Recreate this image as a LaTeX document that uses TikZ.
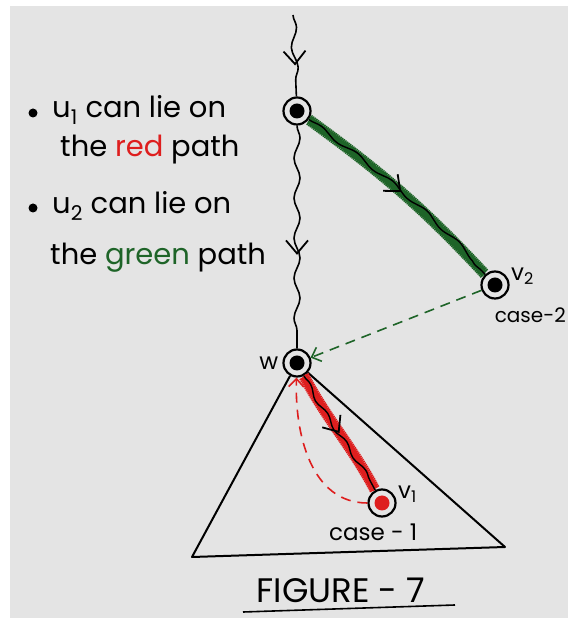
\documentclass[tikz,border=0pt]{standalone}
\usepackage{fontspec}
\setmainfont{Poppins}
\usepackage{tikz}
\usetikzlibrary{arrows.meta, positioning, decorations.pathmorphing, decorations.markings}
\definecolor{paper}{RGB}{228,228,228}
\definecolor{redInk}{RGB}{222,30,30}
\definecolor{greenInk}{RGB}{30,100,40}
\tikzset{
    vertex/.style={circle, draw, line width=2.2pt, fill=paper, minimum size=27pt, inner sep=0pt,
        path picture={\fill[#1] (path picture bounding box.center) circle (7.5pt);}},
    vertex/.default=black,
    wavy/.style={draw, line width=1.6pt, decorate, decoration={snake, segment length=40pt, amplitude=3pt}},
    fuzz/.style={draw=#1, line width=1.3pt, decorate, decoration={zigzag, segment length=2pt, amplitude=5.5pt}},
    edge/.style={draw, line width=2pt, line join=round},
    hint/.style={draw=#1, line width=1.6pt, dash pattern=on 10pt off 7pt, -{Straight Barb[length=8pt,width=15pt]}},
    midarrow/.style={postaction={decorate, decoration={markings,
        mark=at position #1 with {\arrow[line width=1.8pt]{Straight Barb[length=13pt,width=22pt]}}}}},
    note/.style={font=\fontsize{29}{33}\selectfont, inner sep=0pt},
    lbl/.style={font=\fontsize{23}{27}\selectfont, inner sep=1pt},
    dotmark/.style={circle, fill, minimum size=9pt, inner sep=0pt}
}
\begin{document}
\begin{tikzpicture}[x=1pt, y=1pt]
    \useasboundingbox (0,0) rectangle (568,618);
    \fill[paper] (10,0) rectangle (568,612);

    % Nodes
    \coordinate (top) at (293,603);
    \node [vertex] (u1) at (297,507) {};
    \node [vertex] (w) at (297,255) {};
    \node [vertex] (v2) at (495,333) {};
    \node [vertex=redInk] (v1) at (382,115) {};
    \coordinate (bl) at (192,61);
    \coordinate (br) at (505,71);

    % Labels
    \node [lbl, left=3pt of w] (wlbl) {w};
    \node [lbl, anchor=west] (v2lbl) at (510,342) {v\textsubscript{2}};
    \node [lbl, font=\fontsize{20}{24}\selectfont, anchor=east, inner sep=0pt] (case2) at (566,303) {case-2};
    \node [lbl, anchor=west] (v1lbl) at (397,124) {v\textsubscript{1}};
    \node [lbl, anchor=west] (case1) at (328,86) {case - 1};
    \node [font=\fontsize{34}{38}\selectfont, inner sep=0pt] (fig) at (341,28) {FIGURE - 7};
    \coordinate (ulA) at (243,6);
    \coordinate (ulB) at (455,13);

    % Notes
    \node [dotmark] (b1) at (33,505) {};
    \node [note, anchor=west] (n1) at (52,508) {u\textsubscript{1} can lie on};
    \node [note, anchor=west] (n2) at (60,468) {the \textcolor{redInk}{red} path};
    \node [dotmark] (b2) at (33,410) {};
    \node [note, anchor=west] (n3) at (52,412) {u\textsubscript{2} can lie on};
    \node [note, anchor=west] (n4) at (50,360) {the \textcolor{greenInk}{green} path};

    % Tree
    \draw [edge] (w) -- (bl) -- (br) -- (w);

    % Paths
    \path [wavy] (top) -- (u1);
    \path [midarrow=.62] (top) -- (u1);
    \path [wavy] (u1) -- (w);
    \path [midarrow=.58] (u1) -- (w);

    \path [fuzz=greenInk] (u1) to[out=-36, in=133] (v2);
    \path [wavy, line width=1.4pt, decoration={segment length=45pt, amplitude=2pt}] (u1) to[out=-36, in=133] (v2);
    \path [midarrow=.5] (u1) to[out=-36, in=133] (v2);

    \path [fuzz=redInk] (w) to[out=-62, in=118] (v1);
    \path [wavy, line width=1.4pt, decoration={segment length=34pt, amplitude=2pt}] (w) to[out=-62, in=118] (v1);
    \path [midarrow=.5] (w) to[out=-62, in=118] (v1);

    \path [hint=greenInk] (v2) -- (w);
    \path [hint=redInk] (v1) to[out=180, in=-92] (w);

    \draw [line width=1.6pt] (ulA) -- (ulB);
\end{tikzpicture}
\end{document}
